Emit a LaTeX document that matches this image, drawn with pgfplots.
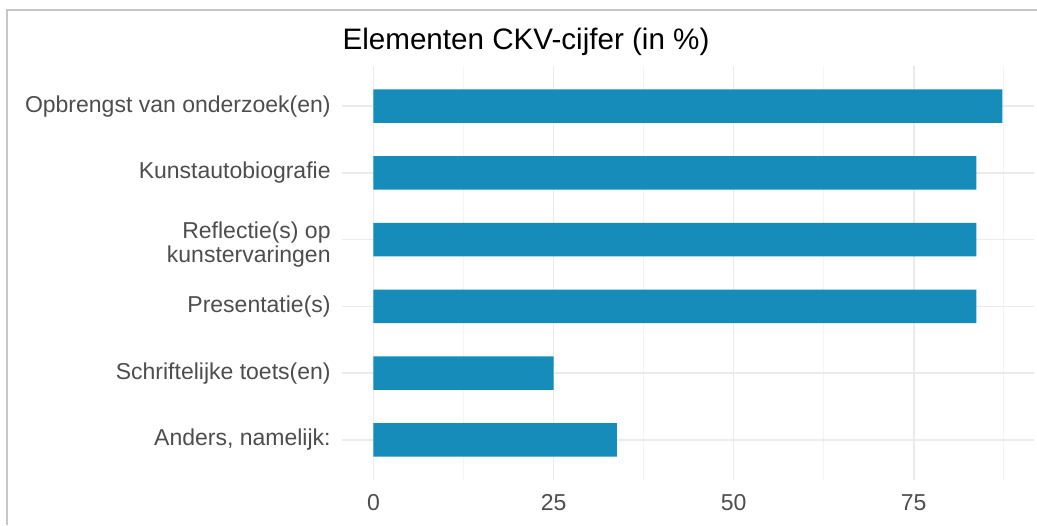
\documentclass[border=0pt]{standalone}
\usepackage{pgfplots}
\pgfplotsset{compat=1.18}
\usepackage{fontspec}
\setmainfont{Liberation Sans}
\definecolor{barblue}{HTML}{158CB9}
\definecolor{gridmaj}{HTML}{EBEBEB}
\definecolor{gridmin}{HTML}{F4F4F4}
\definecolor{labgrey}{HTML}{4D4D4D}
\definecolor{framegrey}{HTML}{C6C6C6}

\begin{document}
\begin{tikzpicture}
% page is 1037 x 525 px at 0.5pt per px
\path[use as bounding box] (0pt,0pt) rectangle (518.5pt,262.5pt);
\draw[framegrey, line width=1pt] (3.5pt,0pt) -- (3.5pt,257.5pt) -- (518.5pt,257.5pt);

\begin{axis}[
    at={(171pt,22.5pt)}, anchor=south west,
    width=346pt, height=207pt, scale only axis,
    xmin=-4.37, xmax=91.7,
    ymin=0.4, ymax=6.6,
    xbar, bar width=0.5,
    axis line style={draw=none},
    major tick length=0pt, minor tick length=0pt,
    xtick={0,25,50,75},
    minor xtick={12.5,37.5,62.5,87.5},
    ytick={1,2,3,4,5,6},
    yticklabels={{Anders, namelijk:},{Schriftelijke toets(en)},{Presentatie(s)},
      {Reflectie(s) op\\kunstervaringen},{Kunstautobiografie},{Opbrengst van onderzoek(en)}},
    xmajorgrids, xminorgrids, ymajorgrids,
    major grid style={gridmaj, line width=0.8pt},
    minor grid style={gridmin, line width=0.5pt},
    tick label style={font=\fontsize{11.5}{12}\selectfont, text=labgrey},
    yticklabel style={align=right, anchor=east, inner sep=0pt, xshift=-5.5pt,
      yshift={ifthenelse(\ticknum==3,-2.5,0)*1pt}},
    xticklabel style={anchor=center, inner sep=0pt, yshift=-11.5pt},
    /pgf/number format/assume math mode=true,
    clip=false,
]
\addplot[fill=barblue, draw=none] coordinates {
    (33.8,1)
    (25.0,2)
    (83.7,3)
    (83.7,4)
    (83.7,5)
    (87.3,6)
};
\end{axis}

\node[font=\fontsize{14.8}{18}\selectfont, text=black] at (263pt,241.5pt) {Elementen CKV-cijfer (in \%)};
\end{tikzpicture}
\end{document}
